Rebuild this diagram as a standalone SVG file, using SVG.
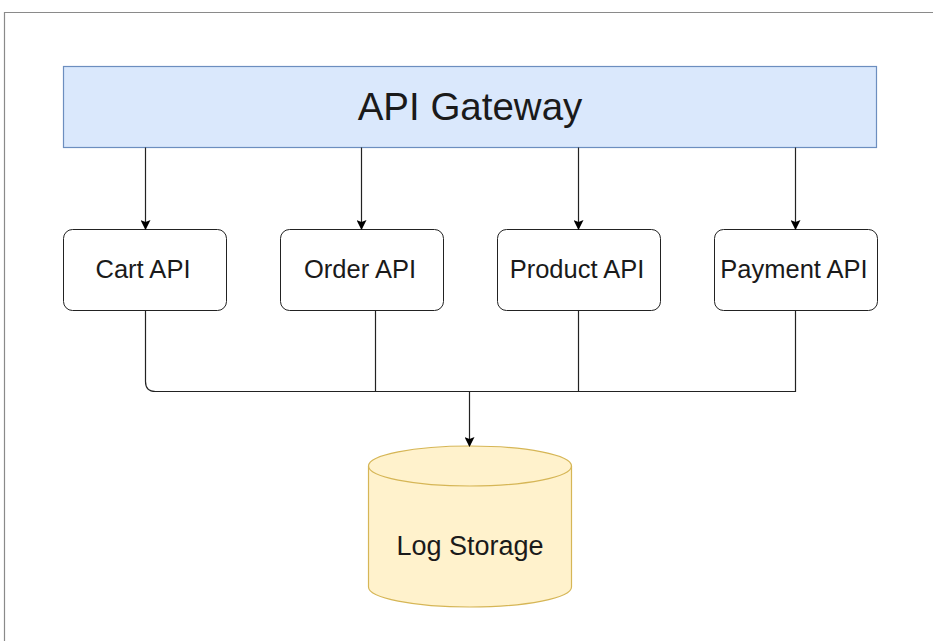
<svg xmlns="http://www.w3.org/2000/svg" width="933" height="641" viewBox="0 0 933 641">
  <defs>
    <marker id="arrow" viewBox="0 0 10 10" refX="9" refY="5" markerWidth="10" markerHeight="10" markerUnits="userSpaceOnUse" orient="auto">
      <path d="M0,0 L10,5 L0,10 L2,5 Z" fill="#000"/>
    </marker>
  </defs>
  <style>
    text { font-family: "Liberation Sans", Arial, sans-serif; fill: #1a1a1a; text-anchor: middle; dominant-baseline: central; }
    .api rect { fill: #fff; stroke: #222; stroke-width: 1; }
    .api text { font-size: 25.5px; }
    .conn { fill: none; stroke: #222; stroke-width: 1.2; }
  </style>
  <rect width="933" height="641" fill="#fff"/>
  <!-- outer frame -->
  <path d="M4.5,641 V12.5 H933" fill="none" stroke="#8a8a8a" stroke-width="1.2"/>

  <g id="gateway">
    <rect x="63.5" y="66.5" width="813" height="81" fill="#dae8fc" stroke="#6c8ebf" stroke-width="1.2"/>
    <text x="470" y="106" font-size="38.5">API Gateway</text>
  </g>

  <g id="cart" class="api">
    <rect x="63.5" y="229.5" width="163" height="81" rx="9"/>
    <text x="143" y="269">Cart API</text>
  </g>
  <g id="order" class="api">
    <rect x="280.5" y="229.5" width="163" height="81" rx="9"/>
    <text x="360" y="269">Order API</text>
  </g>
  <g id="product" class="api">
    <rect x="497.5" y="229.5" width="163" height="81" rx="9"/>
    <text x="577" y="269">Product API</text>
  </g>
  <g id="payment" class="api">
    <rect x="714.5" y="229.5" width="163" height="81" rx="9"/>
    <text x="794" y="269">Payment API</text>
  </g>

  <g id="log-storage">
    <path d="M368.5,466 A101.5,20 0 0 1 571.5,466 V587 A101.5,20 0 0 1 368.5,587 Z" fill="#fff2cc" stroke="#d6b656" stroke-width="1.2"/>
    <path d="M368.5,466 A101.5,20 0 0 0 571.5,466" fill="none" stroke="#d6b656" stroke-width="1.2"/>
    <text x="470" y="546" font-size="27">Log Storage</text>
  </g>

  <g id="connectors">
    <path class="conn" d="M145.5,147.5 V229" marker-end="url(#arrow)"/>
    <path class="conn" d="M361.5,147.5 V229" marker-end="url(#arrow)"/>
    <path class="conn" d="M578.5,147.5 V229" marker-end="url(#arrow)"/>
    <path class="conn" d="M795.5,147.5 V229" marker-end="url(#arrow)"/>
    <path class="conn" d="M145.5,310.5 V381.5 Q145.5,391.5 155.5,391.5 H795.5 V310.5"/>
    <path class="conn" d="M375.5,310.5 V391.5"/>
    <path class="conn" d="M578.5,310.5 V391.5"/>
    <path class="conn" d="M469.5,391.5 V446" marker-end="url(#arrow)"/>
  </g>
</svg>
